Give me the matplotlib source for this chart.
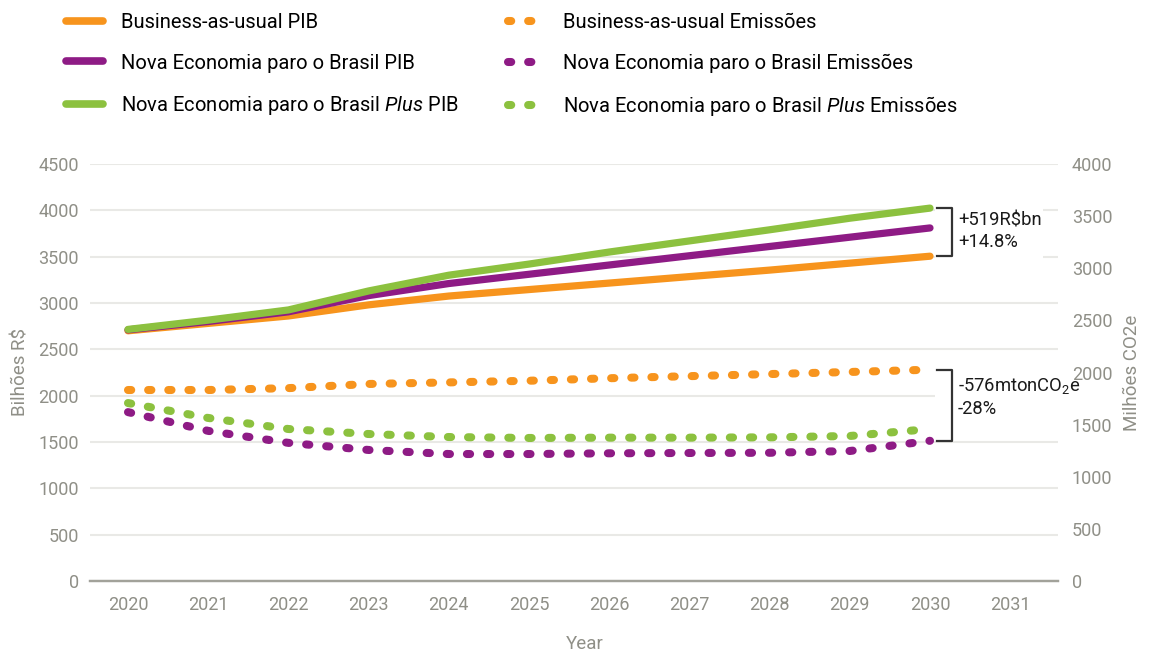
import matplotlib.pyplot as plt
from matplotlib.lines import Line2D
from matplotlib.patches import Rectangle

# dados (PIB em bilhoes R$, emissoes em milhoes tCO2e)
years = [2020, 2021, 2022, 2023, 2024, 2025, 2026, 2027, 2028, 2029, 2030]
bau_pib = [2700, 2780, 2860, 2980, 3075, 3145, 3215, 3285, 3355, 3430, 3505]
neb_pib = [2710, 2800, 2905, 3080, 3210, 3310, 3410, 3510, 3610, 3710, 3810]
plus_pib = [2715, 2815, 2925, 3130, 3300, 3420, 3550, 3670, 3790, 3915, 4024]

bau_em = [1832, 1832, 1850, 1890, 1905, 1921, 1945, 1965, 1985, 2005, 2027]
neb_em = [1620, 1440, 1325, 1257, 1218, 1218, 1225, 1228, 1230, 1247, 1345]
plus_em = [1707, 1564, 1458, 1410, 1381, 1372, 1375, 1375, 1378, 1391, 1458]

xticks = list(range(2020, 2032))
left_ticks = list(range(0, 4501, 500))
right_ticks = list(range(0, 4001, 500))

pib_text = "+519R$bn\n+14.8%"
em_text = "-576mtonCO$_2$e\n-28%"

orange = "#F7941D"
purple = "#8E1B85"
green = "#8CC13F"
gray = "#8F8F87"

plt.rcParams['font.family'] = ['Roboto', 'DejaVu Sans']
plt.rcParams['mathtext.fontset'] = 'custom'
plt.rcParams['mathtext.rm'] = 'Roboto'
plt.rcParams['mathtext.it'] = 'Roboto:italic'

fig = plt.figure(figsize=(11.53, 6.57), dpi=100)
ax = fig.add_axes([90 / 1153, 76 / 657, 968 / 1153, 417 / 657])
ax2 = ax.twinx()

# linhas PIB (eixo esquerdo)
solid = dict(linewidth=5.2, solid_capstyle='round', zorder=3)
ax.plot(years, bau_pib, color=orange, **solid)
ax.plot(years, neb_pib, color=purple, **solid)
ax.plot(years, plus_pib, color=green, **solid)

# linhas emissoes (eixo direito)
dots = dict(linewidth=5.8, linestyle=(0, (0.4, 2.1)), dash_capstyle='round')
ax2.plot(years, bau_em, color=orange, **dots)
ax2.plot(years, plus_em, color=green, **dots)
ax2.plot(years, neb_em, color=purple, **dots)

x0 = 2020 - 38 / 80.2
x1 = 2020 + 930 / 80.2
ax.set_xlim(x0, x1)
ax.set_ylim(0, 4500)
ax2.set_ylim(0, 4000)

ax.set_xticks(xticks)
ax.set_yticks(left_ticks)
ax2.set_yticks(right_ticks)
ax.tick_params(axis='both', length=0, colors=gray, labelsize=13)
ax.tick_params(axis='y', pad=8)
ax.tick_params(axis='x', pad=11)
ax2.tick_params(axis='y', length=0, colors=gray, labelsize=13, pad=10)

ax.set_axisbelow(True)
ax.grid(axis='y', color='#e9e9e6', linewidth=1.5)
ax.grid(axis='x', visible=False)
for a in (ax, ax2):
    for s in ('top', 'left', 'right'):
        a.spines[s].set_visible(False)
    a.spines['bottom'].set_color('#a2a29a')
    a.spines['bottom'].set_linewidth(1.6)

ax.set_ylabel("Bilhões R$", color=gray, fontsize=13.5)
ax.yaxis.set_label_coords(-0.062, 0.5)
ax2.set_ylabel("Milhões CO2e", color=gray, fontsize=13.5)
ax2.yaxis.set_label_coords(1.067, 0.5)
ax.set_xlabel("Year", color=gray, fontsize=13.5)
ax.xaxis.set_label_coords(0.511, -0.13)

# fundo branco atras das anotacoes
ax.add_patch(Rectangle((2030.06, 3300), 1.35, 900, facecolor='white', edgecolor='none', zorder=1))
ax.add_patch(Rectangle((2030.06, 1800), 1.6, 400, facecolor='white', edgecolor='none', zorder=1))

# colchetes
bx0, bx1 = 2030.09, 2030.27
ax.plot([bx0, bx1, bx1, bx0], [plus_pib[-1], plus_pib[-1], bau_pib[-1], bau_pib[-1]],
        color='#333333', linewidth=1.6, zorder=4)
ax2.plot([bx0, bx1, bx1, bx0], [bau_em[-1], bau_em[-1], neb_em[-1], neb_em[-1]],
         color='#333333', linewidth=1.6, zorder=4)
ax.text(2030.35, (plus_pib[-1] + bau_pib[-1]) / 2 + 15, pib_text, fontsize=13.2,
        va='center', ha='left', linespacing=1.25, color='#1a1a1a')
ax2.text(2030.35, (bau_em[-1] + neb_em[-1]) / 2 + 80, em_text, fontsize=13.2,
         va='center', ha='left', linespacing=1.25, color='#1a1a1a')

# legendas
h1 = [Line2D([], [], color=c, linewidth=5.5, solid_capstyle='round') for c in (orange, purple, green)]
h2 = [Line2D([], [], color=c, linewidth=5.8, linestyle=(0, (0.4, 2.1)), dash_capstyle='round')
      for c in (orange, purple, green)]
lab1 = ["Business-as-usual PIB", "Nova Economia paro o Brasil PIB",
        "Nova Economia paro o Brasil $\\it{Plus}$ PIB"]
lab2 = ["Business-as-usual Emissões", "Nova Economia paro o Brasil Emissões",
        "Nova Economia paro o Brasil $\\it{Plus}$ Emissões"]
leg_kw = dict(loc='upper left', frameon=False, fontsize=14.5, handlelength=1.85,
              handletextpad=0.9, labelspacing=1.07, borderpad=0, borderaxespad=0)
fig.legend(h1, lab1, bbox_to_anchor=(66 / 1153, 1 - 13 / 657), **leg_kw)
fig.legend(h2, lab2, bbox_to_anchor=(508 / 1153, 1 - 13 / 657), **leg_kw)

fig.savefig("out.png", dpi=100)
